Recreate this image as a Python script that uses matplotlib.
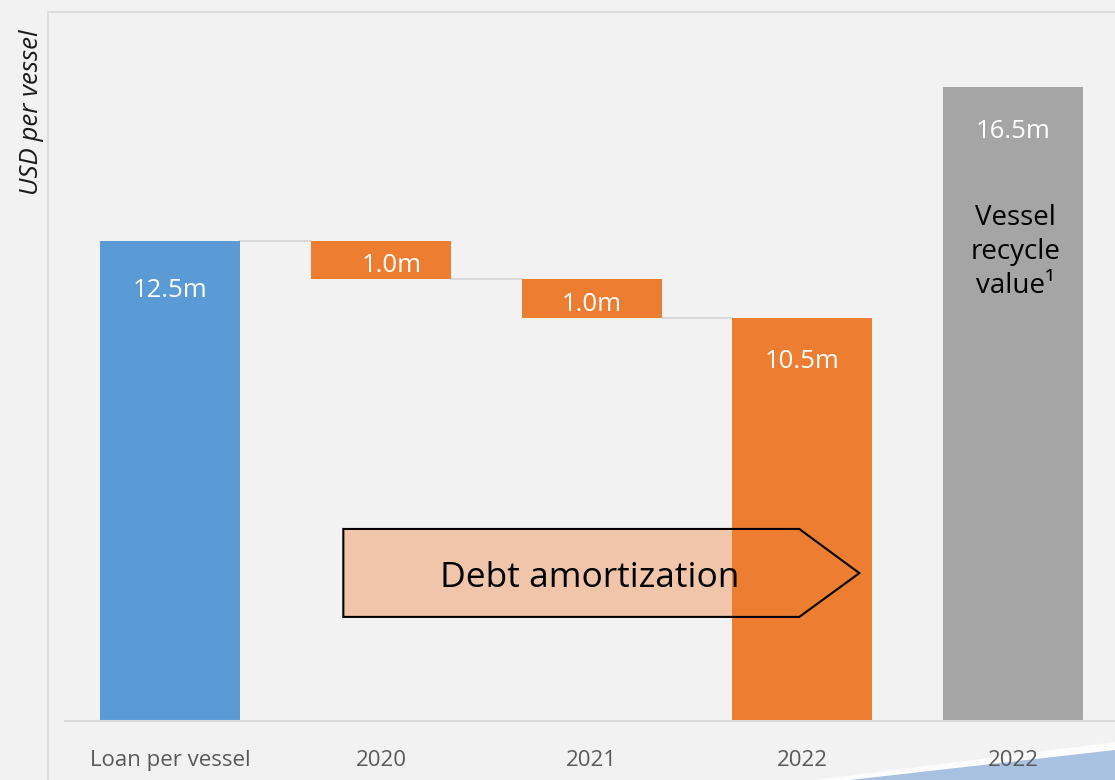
import matplotlib
matplotlib.use("Agg")
import matplotlib.pyplot as plt
from matplotlib.patches import Polygon
from matplotlib.lines import Line2D

# Waterfall data (USD m per vessel)
categories = ["Loan per vessel", "2020", "2021", "2022", "2022"]
bar_bottoms = [0.0, 11.5, 10.5, 0.0, 0.0]
bar_heights = [12.5, 1.0, 1.0, 10.5, 16.5]
bar_labels = ["12.5m", "1.0m", "1.0m", "10.5m", "16.5m"]
bar_colors = ["#5b9bd5", "#ed7d31", "#ed7d31", "#ed7d31", "#a5a5a5"]

BG = "#f2f2f2"
plt.rcParams["font.family"] = ["Open Sans", "DejaVu Sans"]

W, H = 1115, 780
fig = plt.figure(figsize=(W / 100, H / 100), dpi=100, facecolor=BG)


def fx(px):
    return px / W


def fy(py):
    return 1 - py / H


ax = fig.add_axes([fx(65), fy(721), fx(1118.5) - fx(65), fy(12) - fy(721)])
ax.set_facecolor(BG)
ax.set_xlim(-0.5, 4.5)
ax.set_ylim(0, 18.46)

x = list(range(len(categories)))
width = 0.664
ax.bar(x, bar_heights, bottom=bar_bottoms, width=width, color=bar_colors, zorder=2)

# connector lines between waterfall steps
for i in range(3):
    level = bar_bottoms[i] + bar_heights[i] if i == 0 else bar_bottoms[i]
    ax.plot([i + width / 2, i + 1 - width / 2], [level, level],
            color="#d9d9d9", lw=1.5, zorder=1)

# value labels
label_y = [11.22, 11.85, 10.84, 9.35, 15.34]
label_dx = [0.0, 0.05, 0.0, 0.0, 0.0]
for i, (lab, ly) in enumerate(zip(bar_labels, label_y)):
    ax.text(i + label_dx[i], ly, lab, ha="center", va="center",
            color="white", fontsize=18.5, zorder=5)

ax.text(4.01, 12.21, "Vessel\nrecycle\nvalue¹", ha="center", va="center",
        color="black", fontsize=20, linespacing=1.27, zorder=5)

# amortization arrow
arrow_pts = [(0.821, 5.0), (2.985, 5.0), (3.27, 3.85), (2.985, 2.71), (0.821, 2.71)]
ax.add_patch(Polygon(arrow_pts, closed=True, facecolor="#f0c5aa",
                     edgecolor="none", zorder=1.5))
ax.add_patch(Polygon(arrow_pts, closed=True, facecolor="none",
                     edgecolor="black", lw=1.5, zorder=3))
ax.text(1.99, 3.72, "Debt amortization", ha="center", va="center",
        fontsize=25.5, color="black", zorder=4)

# axes styling
for side in ["top", "right", "left"]:
    ax.spines[side].set_visible(False)
ax.spines["bottom"].set_color("#d9d9d9")
ax.spines["bottom"].set_linewidth(1.5)
ax.set_yticks([])
ax.set_xticks(x)
ax.set_xticklabels(categories, fontsize=16, color="#595959")
ax.tick_params(axis="x", length=0, pad=21)

fig.text(fx(32), fy(112), "USD per vessel", rotation=90, ha="center",
         va="center", fontsize=18.5, style="italic", color="#1a1a1a")

# chart frame
fig.add_artist(Line2D([fx(48), fx(48), fx(1115)], [fy(780), fy(12), fy(12)],
                      transform=fig.transFigure, color="#d9d9d9", lw=1.2))

# decorative swoosh in the lower-right corner, kept behind the tick labels
fig.add_artist(Polygon([(fx(815), fy(780)), (fx(1115), fy(742)), (fx(1115), fy(780))],
                       closed=True, transform=fig.transFigure, zorder=-2,
                       facecolor="#ffffff", edgecolor="none", alpha=0.8))
fig.add_artist(Polygon([(fx(850), fy(780)), (fx(1115), fy(750)), (fx(1115), fy(780))],
                       closed=True, transform=fig.transFigure, zorder=-1,
                       facecolor="#a9c1e0", edgecolor="none"))

fig.savefig("out.png", dpi=100, facecolor=BG)
